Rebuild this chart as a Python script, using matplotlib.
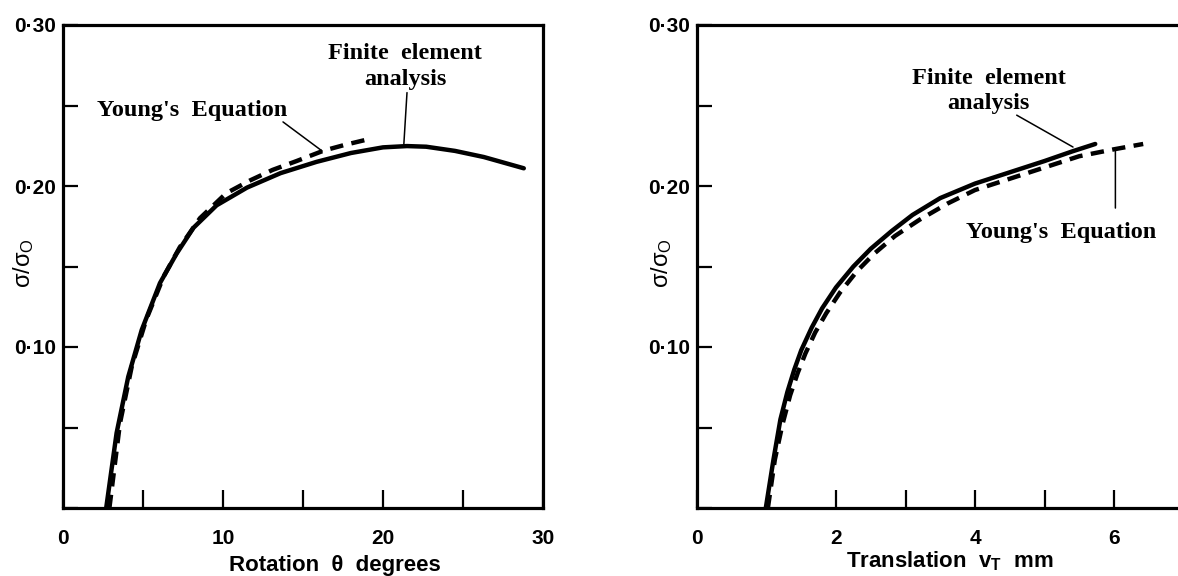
import matplotlib
matplotlib.use("Agg")
import matplotlib.pyplot as plt

plt.rcParams['font.family'] = ['Liberation Sans', 'DejaVu Sans']
plt.rcParams['mathtext.fontset'] = 'custom'
plt.rcParams['mathtext.rm'] = 'Liberation Sans'
plt.rcParams['mathtext.bf'] = 'Liberation Sans:bold'
plt.rcParams['mathtext.it'] = 'Liberation Sans:italic'

# left panel: rotation (degrees)
rot_fe = [2.7, 3.35, 4.08, 4.92, 6.06, 7.1, 8.15, 9.6, 11.5, 13.6, 15.85, 18.0, 20.0, 21.5, 22.7, 24.5, 26.3, 28.8]
sig_rot_fe = [0.0, 0.0466, 0.0816, 0.1106, 0.1397, 0.158, 0.174, 0.188, 0.199, 0.208, 0.215, 0.2205, 0.224, 0.2248, 0.2244, 0.2218, 0.218, 0.211]
rot_young = [2.9, 3.56, 4.3, 5.2, 6.3, 7.3, 8.56, 10.2, 11.7, 13.1, 14.6, 16.3, 17.6, 18.9]
sig_rot_young = [0.0, 0.0526, 0.088, 0.117, 0.144, 0.162, 0.180, 0.1955, 0.2035, 0.210, 0.2155, 0.222, 0.2255, 0.2286]

# right panel: translation (mm)
tr_fe = [0.99, 1.1, 1.2, 1.3, 1.4, 1.5, 1.65, 1.8, 2.0, 2.25, 2.5, 2.8, 3.1, 3.5, 4.0, 4.5, 5.0, 5.4, 5.73]
sig_tr_fe = [0.0, 0.03, 0.055, 0.072, 0.086, 0.098, 0.112, 0.124, 0.137, 0.150, 0.161, 0.172, 0.182, 0.1925, 0.2015, 0.2085, 0.2155, 0.2215, 0.2261]
tr_young = [1.02, 1.12, 1.23, 1.34, 1.45, 1.56, 1.7, 1.86, 2.06, 2.3, 2.55, 2.85, 3.2, 3.6, 4.0, 4.5, 5.0, 5.5, 6.0, 6.42]
sig_tr_young = [0.0, 0.03, 0.052, 0.07, 0.084, 0.096, 0.109, 0.121, 0.134, 0.147, 0.158, 0.169, 0.179, 0.189, 0.1975, 0.2045, 0.2115, 0.2185, 0.2228, 0.2261]

ytick_vals = [0, 0.05, 0.10, 0.15, 0.20, 0.25, 0.30]
ytick_labels = ['', '', '0·10', '', '0·20', '', '0·30']

fig = plt.figure(figsize=(11.78, 5.76), dpi=100)
ax1 = fig.add_axes([63 / 1178, 68 / 576, 480 / 1178, 483 / 576])
ax2 = fig.add_axes([697 / 1178, 68 / 576, 486.5 / 1178, 483 / 576])

serif = dict(family='Liberation Serif', fontweight='bold', fontsize=17.5)
leader = dict(arrowstyle='-', lw=1.1, color='black', shrinkA=0, shrinkB=0)
dash = (0, (3.0, 1.9))

for ax in (ax1, ax2):
    ax.set_ylim(0, 0.30)
    ax.set_yticks(ytick_vals)
    ax.set_yticklabels(ytick_labels)
    for s in ax.spines.values():
        s.set_linewidth(2.3)
    ax.tick_params(direction='in', width=1.6, labelsize=15)
    ax.tick_params(axis='y', length=11, pad=5)
    ax.tick_params(axis='x', length=13, pad=15)
    for lab in ax.get_xticklabels() + ax.get_yticklabels():
        lab.set_fontweight('bold')
    ax.set_ylabel(r'$\mathrm{σ/σ_O}$', fontsize=17)
    ax.yaxis.label.set_verticalalignment('center')

# left
ax1.plot(rot_fe, sig_rot_fe, color='black', lw=3.2, solid_capstyle='round')
ax1.plot(rot_young, sig_rot_young, color='black', lw=3.2, ls=dash)
ax1.set_xlim(0, 30)
ax1.set_xticks([0, 5, 10, 15, 20, 25, 30])
ax1.set_xticklabels(['0', '', '10', '', '20', '', '30'], fontweight='bold', fontsize=15)
ax1.set_xlabel('Rotation  θ  degrees', fontsize=16, fontweight='bold')
ax1.xaxis.label.set_verticalalignment('center')
ax1.xaxis.set_label_coords(0.567, -0.12)
ax1.yaxis.set_label_coords(-0.083, 0.507)
ax1.text(8.06, 0.247, "Young's  Equation", ha='center', va='center', **serif)
ax1.annotate('', xy=(16.2, 0.2217), xytext=(13.75, 0.2398), arrowprops=leader)
ax1.text(21.4, 0.274, "Finite  element\nanalysis", ha='center', va='center', linespacing=1.3, **serif)
ax1.annotate('', xy=(21.3, 0.2255), xytext=(21.5, 0.258), arrowprops=leader)

# right
ax2.plot(tr_fe, sig_tr_fe, color='black', lw=3.2, solid_capstyle='round')
ax2.plot(tr_young, sig_tr_young, color='black', lw=3.2, ls=dash)
ax2.set_xlim(0, 7)
ax2.set_xticks([0, 2, 3, 4, 5, 6])
ax2.set_xticklabels(['0', '2', '', '4', '', '6'], fontweight='bold', fontsize=15)
ax2.set_xlabel(r'Translation  v$_\mathbf{T}$  mm', fontsize=16, fontweight='bold')
ax2.xaxis.label.set_verticalalignment('center')
ax2.xaxis.set_label_coords(0.52, -0.11)
ax2.yaxis.set_label_coords(-0.072, 0.507)
ax2.text(4.2, 0.259, "Finite  element\nanalysis", ha='center', va='center', linespacing=1.25, **serif)
ax2.annotate('', xy=(5.41, 0.2242), xytext=(4.6, 0.244), arrowprops=leader)
ax2.text(5.24, 0.1714, "Young's  Equation", ha='center', va='center', **serif)
ax2.annotate('', xy=(6.02, 0.2224), xytext=(6.02, 0.1863), arrowprops=leader)

fig.savefig('out.png', dpi=100)
